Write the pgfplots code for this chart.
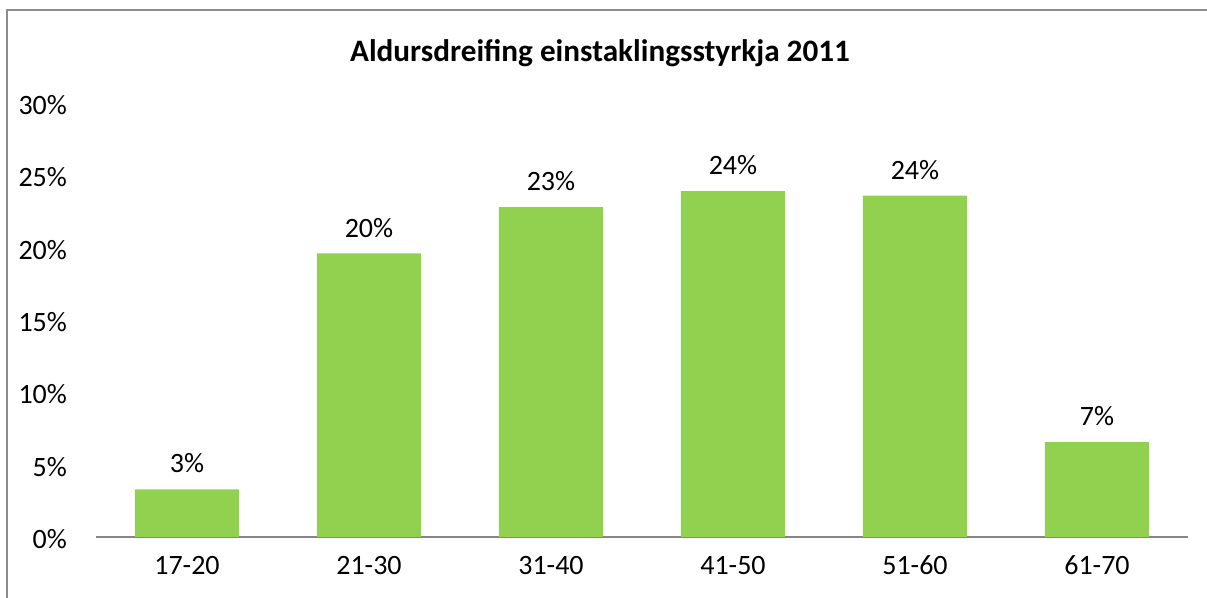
\documentclass[border=0pt]{standalone}
\usepackage{fontspec}
\setmainfont{Carlito}
\usepackage{pgfplots}
\pgfplotsset{compat=1.18}
\definecolor{bargreen}{HTML}{92D050}
\definecolor{axgray}{HTML}{868686}
\definecolor{framegray}{HTML}{8C8C8C}
\begin{document}
\begin{tikzpicture}
\useasboundingbox (0,0) rectangle (603.5pt,299pt);
\draw[framegray, line width=1.2pt] (3.4pt,-5pt) -- (3.4pt,294pt) -- (610pt,294pt);
\node[font=\fontsize{15.6}{18}\selectfont\bfseries] at (300pt,272.5pt) {Aldursdreifing einstaklingsstyrkja 2011};
\begin{axis}[
  at={(48pt,30.5pt)}, anchor=south west,
  width=546pt, height=217pt, scale only axis,
  xmin=-0.5, xmax=5.5, ymin=0, ymax=30,
  xtick={0,1,2,3,4,5},
  xticklabels={17-20,21-30,31-40,41-50,51-60,61-70},
  ytick={0,5,10,15,20,25,30},
  yticklabel={\pgfmathprintnumber{\tick}\%},
  /pgf/number format/assume math mode=true,
  axis x line*=bottom, axis y line*=left,
  x axis line style={draw=axgray, line width=0.8pt, -},
  y axis line style={draw=none},
  major tick length=0pt,
  ticklabel style={font=\fontsize{14}{16}\selectfont, text=black},
  yticklabel style={anchor=east, xshift=-11pt, yshift=-1pt},
  xticklabel style={yshift=-6pt},
  ybar, bar width=52pt,
  nodes near coords={\pgfmathprintnumber[fixed,precision=0]{\pgfplotspointmeta}\%},
  nodes near coords style={font=\fontsize{14}{16}\selectfont, text=black, yshift=4.5pt},
  clip=false,
]
\addplot[fill=bargreen, draw=none] coordinates {(0,3.3) (1,19.6) (2,22.8) (3,23.9) (4,23.6) (5,6.55)};
\end{axis}
\end{tikzpicture}
\end{document}
